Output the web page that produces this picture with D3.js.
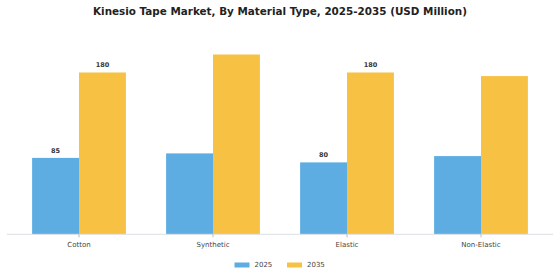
<!DOCTYPE html>
<html>
<head>
<style>
body {
  margin: 0;
  font-family: "DejaVu Sans", Arial, sans-serif;
  background: #fff;
}
svg { display: block; }
</style>
<script src="https://cdn.jsdelivr.net/npm/d3@7/dist/d3.min.js"></script>
</head>
<body>
<script type="text/javascript">
var categories = ["Cotton", "Synthetic", "Elastic", "Non-Elastic"];
var years = ["2025", "2035"];
var values2025 = [85, 90, 80, 87];
var values2035 = [180, 200, 180, 176];
// only some bars carry a value label in the original
var labelled = ["Cotton", "Elastic"];

var width = 560, height = 280;
var baseY = 234.3;

var svg = d3.select("body").append("svg")
	.attr("width", width)
	.attr("height", height);

var color = d3.scaleOrdinal()
	.domain(years)
	.range(["#5dade2", "#f7c143"]);

var x0 = d3.scaleBand()
	.domain(categories)
	.range([12, 548])
	.paddingInner(0.3)
	.paddingOuter(0.15);

var x1 = d3.scaleBand()
	.domain(years)
	.range([0, x0.bandwidth()]);

var y = d3.scaleLinear()
	.domain([0, 210])
	.range([baseY, baseY - 210 * 0.899]);

var rows = categories.map(function(c, i) {
	return {category: c, values: [
		{year: "2025", value: values2025[i]},
		{year: "2035", value: values2035[i]}
	]};
});

/* ------- TITLE -------*/
svg.append("text")
	.attr("x", width / 2)
	.attr("y", 14.8)
	.attr("text-anchor", "middle")
	.style("font-size", "10.4px")
	.style("font-weight", "bold")
	.style("fill", "#222")
	.text("Kinesio Tape Market, By Material Type, 2025-2035 (USD Million)");

/* ------- BARS -------*/
var group = svg.append("g").selectAll("g")
	.data(rows)
	.enter().append("g")
	.attr("transform", function(d) { return "translate(" + x0(d.category) + ",0)"; });

group.selectAll("rect")
	.data(function(d) { return d.values; })
	.enter().append("rect")
	.attr("x", function(d) { return x1(d.year); })
	.attr("y", function(d) { return y(d.value); })
	.attr("width", x1.bandwidth())
	.attr("height", function(d) { return baseY - y(d.value); })
	.style("fill", function(d) { return color(d.year); });

group.filter(function(d) { return labelled.indexOf(d.category) >= 0; })
	.selectAll("text")
	.data(function(d) { return d.values; })
	.enter().append("text")
	.attr("x", function(d) { return x1(d.year) + x1.bandwidth() / 2; })
	.attr("y", function(d) { return y(d.value) - 5; })
	.attr("text-anchor", "middle")
	.style("font-size", "6.5px")
	.style("font-weight", "bold")
	.style("fill", "#333")
	.text(function(d) { return d.value; });

/* ------- X AXIS -------*/
var xAxis = svg.append("g")
	.attr("transform", "translate(0," + baseY + ")")
	.call(d3.axisBottom(x0).tickSize(3).tickSizeOuter(0));

xAxis.select(".domain").remove();
xAxis.insert("line", ":first-child")
	.attr("x1", 7).attr("x2", 553)
	.attr("stroke", "#dde0e4");
xAxis.selectAll(".tick line").attr("stroke", "#bbb");
xAxis.selectAll(".tick text")
	.attr("dy", "0.95em")
	.style("font-family", "DejaVu Sans, sans-serif")
	.style("font-size", "7px")
	.style("fill", "#444");

/* ------- LEGEND -------*/
var legendX = [234.5, 287];
var legend = svg.append("g").selectAll("g")
	.data(years)
	.enter().append("g")
	.attr("transform", function(d, i) { return "translate(" + legendX[i] + ",265)"; });

legend.append("rect")
	.attr("y", -2.5)
	.attr("width", 15)
	.attr("height", 5)
	.style("fill", function(d) { return color(d); });

legend.append("text")
	.attr("x", 20)
	.attr("dy", "0.35em")
	.style("font-size", "7px")
	.style("fill", "#444")
	.text(function(d) { return d; });
</script>
</body>
</html>
